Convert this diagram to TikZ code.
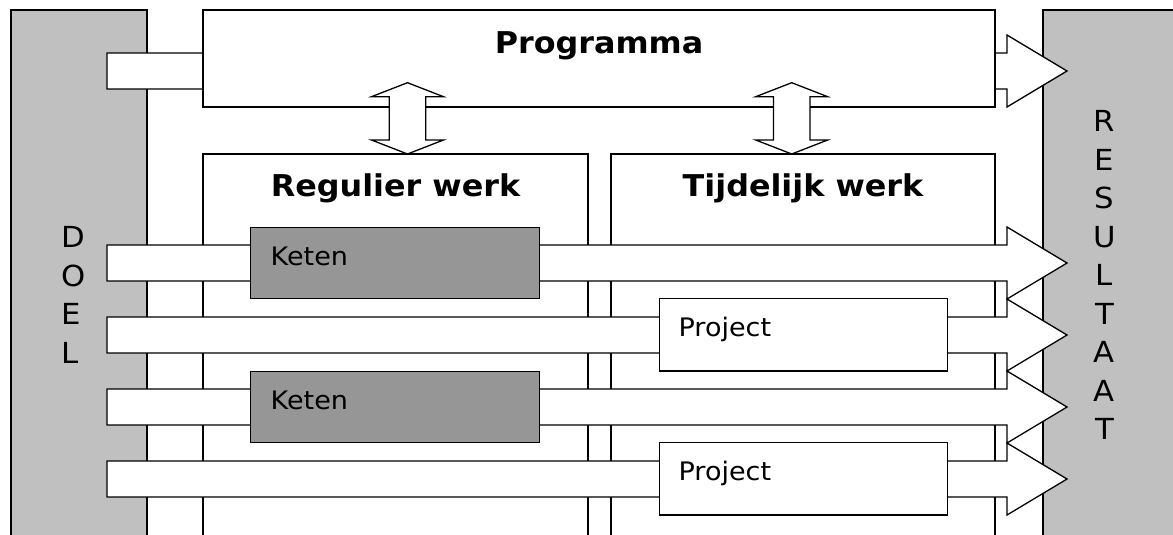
\documentclass[tikz,border=0pt]{standalone}
\usepackage{fontspec}
\setmainfont{DejaVu Sans}[FakeStretch=1.06]
\definecolor{panelgray}{HTML}{C0C0C0}
\definecolor{ketengray}{HTML}{969696}
\begin{document}
\begin{tikzpicture}[x=1pt, y=-1pt, line width=1.3pt, line join=miter,
  panel/.style={draw=black, fill=panelgray, inner sep=0pt, outer sep=0pt, anchor=north west},
  box/.style={draw=black, fill=white, inner sep=0pt, outer sep=0pt, anchor=north west},
  unitbox/.style={draw=black, fill=ketengray, inner sep=0pt, outer sep=0pt, anchor=north west},
  heading/.style={font=\fontsize{30}{36}\selectfont\bfseries, inner sep=0pt, anchor=base},
  boxtext/.style={font=\fontsize{25.5}{30}\selectfont, inner sep=0pt, anchor=base west},
  letter/.style={font=\fontsize{29}{34}\selectfont, inner sep=0pt},
  flow/.pic={
    \draw[fill=white] (0,-18) -- (900,-18) -- (900,-36) -- (960,0)
      -- (900,36) -- (900,18) -- (0,18) -- cycle;
  },
  link/.pic={
    \draw[fill=white] (0,-35.65) -- (36,-21.65) -- (18.2,-21.65) -- (18.2,21.65)
      -- (36,21.65) -- (0,35.65) -- (-36,21.65) -- (-18.2,21.65)
      -- (-18.2,-21.65) -- (-36,-21.65) -- cycle;
  }]
\useasboundingbox (0,0) rectangle (1173,535);
\clip (0,0) rectangle (1173,535);

% side panels: goal and result
\node[panel, minimum width=136pt, minimum height=560pt] (doel) at (11,10) {};
\node[panel, minimum width=200pt, minimum height=560pt] (resultaat) at (1043,10) {};

% programme flow runs behind the programme box
\pic at (107,71) {flow};
\node[box, minimum width=792pt, minimum height=97pt] (prog) at (203,10) {};

% regular and temporary work columns
\node[box, minimum width=385pt, minimum height=420pt] (regulier) at (203,154) {};
\node[box, minimum width=384pt, minimum height=420pt] (tijdelijk) at (611,154) {};

% two-way links between programme and the columns
\pic at (407.5,118.35) {link};
\pic at (791.7,118.35) {link};

% flows from goal to result
\foreach \yc in {263,335,407,479}
  \pic at (107,\yc) {flow};

% chains and projects on top of the flows
\node[unitbox, minimum width=288.6pt, minimum height=71.4pt] (keten1) at (250.7,227.3) {};
\node[unitbox, minimum width=288.6pt, minimum height=71pt] (keten2) at (250.7,371.7) {};
\node[box, minimum width=288pt, minimum height=72.3pt] (project1) at (659.3,298.7) {};
\node[box, minimum width=288pt, minimum height=72.3pt] (project2) at (659.3,442.7) {};

% labels
\node[heading] (prog-label) at (599,53.3) {Programma};
\node[heading] (regulier-label) at (395.5,196.7) {Regulier werk};
\node[heading] (tijdelijk-label) at (803,196.7) {Tijdelijk werk};
\node[boxtext] (keten1-label) at (270,265) {Keten};
\node[boxtext] (keten2-label) at (270,409.4) {Keten};
\node[boxtext] (project1-label) at (678,336.7) {Project};
\node[boxtext] (project2-label) at (678,480.7) {Project};

\foreach \l [count=\i] in {D,O,E,L}
  \node[letter, anchor=base west] (doel-\i) at (61,{247.7+38.5*(\i-1)}) {\l};
\foreach \l [count=\i] in {R,E,S,U,L,T,A,A,T}
  \node[letter, anchor=base] (resultaat-\i) at (1104.5,{131.7+38.5*(\i-1)}) {\l};
\end{tikzpicture}
\end{document}
